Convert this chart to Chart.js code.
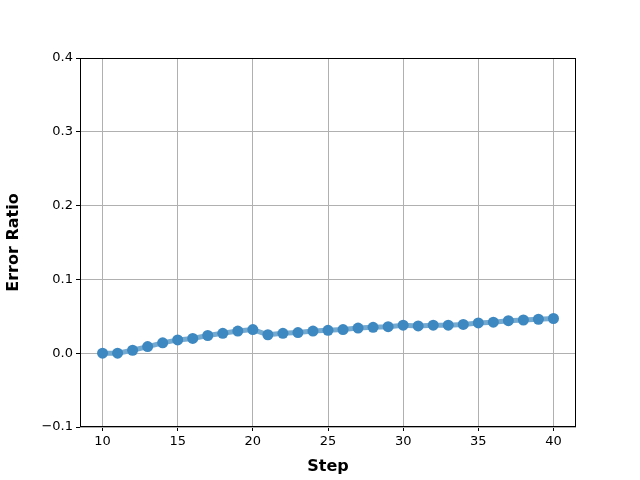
<!DOCTYPE html>
<html lang="en">
<head>
  <meta charset="UTF-8">
  <title>Error Ratio by Step</title>
  <script src="https://cdn.jsdelivr.net/npm/chart.js"></script>
  <style>
    body { margin: 0; background: #fff; }
    #wrap { width: 640px; height: 480px; }
  </style>
</head>
<body>
<div id="wrap"><canvas id="errorChart" width="640" height="480"></canvas></div>
<script>
  // values
  const steps = [10, 11, 12, 13, 14, 15, 16, 17, 18, 19, 20,
                 21, 22, 23, 24, 25, 26, 27, 28, 29, 30,
                 31, 32, 33, 34, 35, 36, 37, 38, 39, 40];
  const errorRatio = [0.000, 0.000, 0.004, 0.009, 0.014, 0.018, 0.020, 0.024, 0.027, 0.030, 0.032,
                      0.025, 0.027, 0.028, 0.030, 0.031, 0.032, 0.034, 0.035, 0.036, 0.038,
                      0.037, 0.038, 0.038, 0.039, 0.041, 0.042, 0.044, 0.045, 0.046, 0.047];
  const xTicks = [10, 15, 20, 25, 30, 35, 40];
  const yTicks = [-0.1, 0.0, 0.1, 0.2, 0.3, 0.4];

  const points = steps.map((s, i) => ({ x: s, y: errorRatio[i] }));

  // black frame around the plot area, like matplotlib
  const frame = {
    id: 'frame',
    afterDraw(chart) {
      const a = chart.chartArea;
      const ctx = chart.ctx;
      ctx.save();
      ctx.strokeStyle = '#000';
      ctx.lineWidth = 1;
      ctx.strokeRect(a.left + 0.5, a.top + 0.5, a.right - a.left - 1, a.bottom - a.top - 1);
      ctx.restore();
    }
  };

  const ctx = document.getElementById('errorChart').getContext('2d');
  new Chart(ctx, {
    type: 'line',
    data: {
      datasets: [{
        data: points,
        borderColor: '#74a9d0',
        backgroundColor: '#3d88c0',
        pointBackgroundColor: '#3d88c0',
        borderWidth: 5,
        pointRadius: 5.5,
        pointBorderWidth: 0,
        pointHoverRadius: 5.5,
        fill: false,
        tension: 0
      }]
    },
    options: {
      responsive: false,
      animation: false,
      events: [],
      layout: { padding: { top: 58, right: 64, left: 0, bottom: 0 } },
      plugins: {
        legend: { display: false },
        tooltip: { enabled: false }
      },
      scales: {
        x: {
          type: 'linear',
          min: 8.5,
          max: 41.5,
          afterBuildTicks: axis => { axis.ticks = xTicks.map(v => ({ value: v })); },
          afterFit: axis => { axis.height = 53; },
          grid: { color: '#b0b0b0', tickColor: '#000', tickLength: 4 },
          border: { display: false },
          ticks: {
            color: '#000',
            font: { family: 'DejaVu Sans', size: 13 },
            padding: 3,
            maxRotation: 0
          },
          title: {
            display: true,
            text: 'Step',
            color: '#000',
            font: { family: 'DejaVu Sans', size: 16, weight: 'bold' },
            padding: { top: 6 }
          }
        },
        y: {
          min: -0.1,
          max: 0.4,
          afterBuildTicks: axis => { axis.ticks = yTicks.map(v => ({ value: v })); },
          afterFit: axis => { axis.width = 80; },
          grid: { color: '#b0b0b0', tickColor: '#000', tickLength: 4 },
          border: { display: false },
          ticks: {
            color: '#000',
            font: { family: 'DejaVu Sans', size: 13 },
            padding: 3,
            callback: v => v.toFixed(1).replace('-', '\u2212')
          },
          title: {
            display: true,
            text: 'Error Ratio',
            color: '#000',
            font: { family: 'DejaVu Sans', size: 16, weight: 'bold' },
            padding: { bottom: 8 }
          }
        }
      }
    },
    plugins: [frame]
  });
</script>
</body>
</html>
